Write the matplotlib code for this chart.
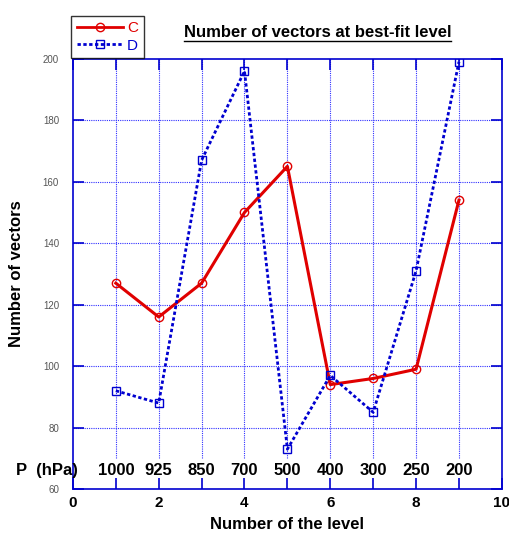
import matplotlib
matplotlib.use("Agg")
import matplotlib.pyplot as plt
from matplotlib.lines import Line2D

plt.rcParams["font.family"] = ["Liberation Sans", "DejaVu Sans"]

levels = [1, 2, 3, 4, 5, 6, 7, 8, 9]
pressure = ["1000", "925", "850", "700", "500", "400", "300", "250", "200"]
count_c = [127, 116, 127, 150, 165, 94, 96, 99, 154]
count_d = [92, 88, 167, 196, 73, 97, 85, 131, 199]

RED = "#e00000"
BLUE = "#0000d0"
GRID = "#3030ff"
DOTS = (0, (1.2, 0.9))

fig = plt.figure(figsize=(5.1, 5.34), dpi=100)
ax = fig.add_axes([0.143, 0.084, 0.841, 0.806])

ax.set_xlim(0, 10)
ax.set_ylim(60, 200)

# grid
for y in range(80, 200, 20):
    ax.axhline(y, color=GRID, lw=0.8, ls=(0, (1, 1)), zorder=1)
for x in levels:
    ax.plot([x, x], [70, 200], color=GRID, lw=0.8, ls=(0, (1, 1)), zorder=1)

# series
ax.plot(levels, count_c, color=RED, lw=2.2, marker="o", ms=6,
        mfc="none", mec=RED, mew=1, zorder=3)
ax.plot(levels, count_d, color=BLUE, lw=2, ls=DOTS, marker="s", ms=6,
        mfc="none", mec=BLUE, mew=1, zorder=4)

# pressure labels
ax.text(-0.6, 66.2, "P  (hPa)", ha="center", va="center",
        fontsize=12, fontweight="bold", clip_on=False)
for x, p in zip(levels, pressure):
    ax.text(x, 66.2, p, ha="center", va="center",
            fontsize=12, fontweight="bold")

# axes styling
for s in ax.spines.values():
    s.set_color(BLUE)
    s.set_linewidth(1.2)

ax.set_xticks([0, 2, 4, 6, 8, 10])
ax.set_xticks(levels, minor=True)
ax.set_yticks(range(60, 201, 20))
ax.tick_params(axis="both", which="both", direction="in", color=BLUE,
               length=8, width=1.2, top=True, right=True)
ax.tick_params(axis="x", labelsize=11, pad=5)
ax.tick_params(axis="y", labelsize=7, labelcolor="#555555", pad=10)
for lab in ax.get_xticklabels():
    lab.set_fontweight("bold")

ax.set_xlabel("Number of the level", fontsize=12, fontweight="bold", labelpad=5)
ax.set_ylabel("Number of vectors", fontsize=12, fontweight="bold")
ax.yaxis.set_label_coords(-0.113, 0.5)

# title with underline
title = fig.text(0.623, 0.94, "Number of vectors at best-fit level",
                 ha="center", va="center", fontsize=12, fontweight="bold")
fig.canvas.draw()
bb = title.get_window_extent().transformed(fig.transFigure.inverted())
fig.add_artist(Line2D([bb.x0, bb.x1], [bb.y0 - 0.002, bb.y0 - 0.002],
                      color="black", lw=1, transform=fig.transFigure))

# legend
handles = [
    Line2D([], [], color=RED, lw=2, marker="o", ms=6, mfc="none", mew=1),
    Line2D([], [], color=BLUE, lw=2, ls=DOTS, marker="s", ms=6,
           mfc="none", mew=1),
]
leg = fig.legend(handles, ["C", "D"], loc="upper left",
                 bbox_to_anchor=(0.125, 0.985), fontsize=11,
                 handlelength=3.0, handletextpad=0.3, borderpad=0.35,
                 labelspacing=0.25, fancybox=False, shadow=False,
                 frameon=True)
leg.get_frame().set_edgecolor("black")
leg.get_frame().set_linewidth(1)
for t, c in zip(leg.get_texts(), [RED, BLUE]):
    t.set_color(c)

fig.savefig("out.png", dpi=100)
